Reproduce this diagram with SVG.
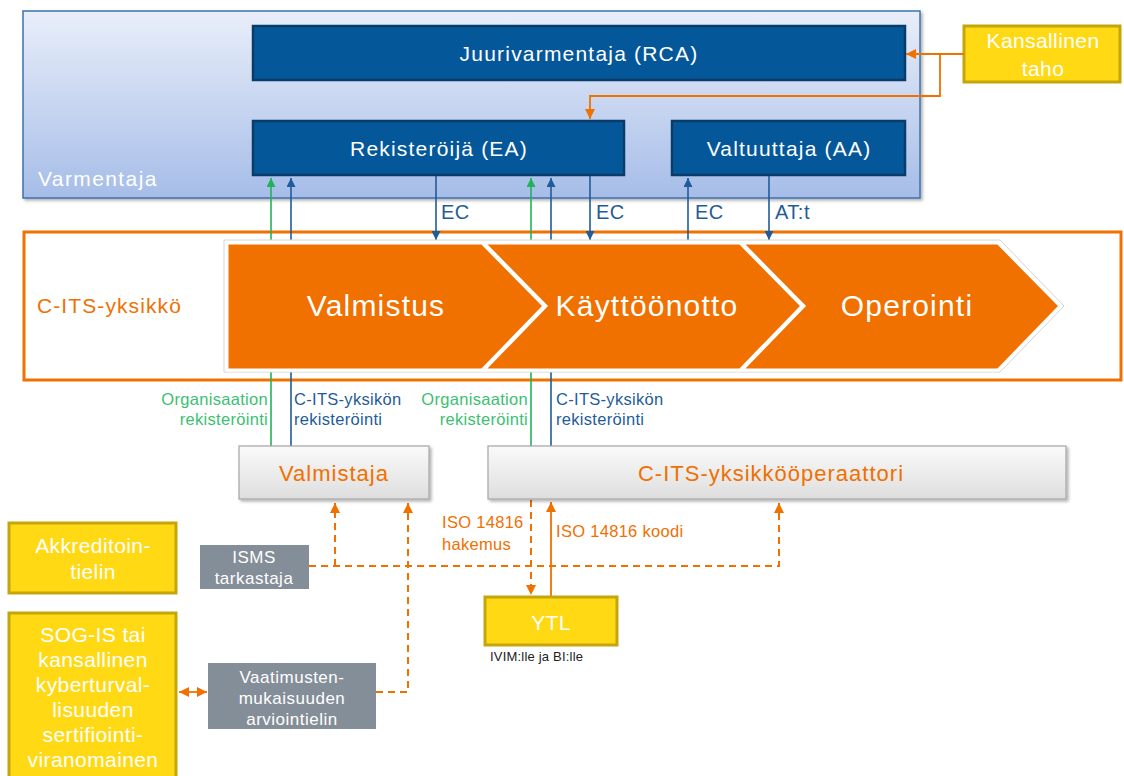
<svg xmlns="http://www.w3.org/2000/svg" width="1124" height="776" viewBox="0 0 1124 776">
  <style>
    text { font-family: "Liberation Sans", Arial, sans-serif; }
    .ca { fill: #04589a; stroke: #0a3c6a; stroke-width: 2.5; }
    .ca-t { fill: #ffffff; font-size: 21px; letter-spacing: 1.2px; text-anchor: middle; }
    .yel { fill: #ffd914; stroke: #c4a50b; stroke-width: 3; }
    .yel-t { fill: #ffffff; font-size: 21px; letter-spacing: 0.4px; text-anchor: middle; }
    .gbox { fill: url(#gGrey); stroke: #a6a6a6; stroke-width: 1.2; filter: url(#sh); }
    .gbox-t { fill: #f07000; font-size: 22px; letter-spacing: 1px; text-anchor: middle; }
    .slate { fill: #848e98; }
    .slate-t { fill: #ffffff; font-size: 17px; letter-spacing: 0.5px; text-anchor: middle; }
    .chev { fill: #f07000; stroke: #ffffff; stroke-width: 3; stroke-linejoin: miter; }
    .chev-t { fill: #ffffff; font-size: 30px; letter-spacing: 1.2px; text-anchor: middle; }
    .lb { stroke: #1f5c99; stroke-width: 1.6; fill: none; }
    .lg { stroke: #22b25a; stroke-width: 1.6; fill: none; }
    .lo { stroke: #f07000; stroke-width: 1.8; fill: none; }
    .ld { stroke: #f07000; stroke-width: 2; fill: none; stroke-dasharray: 7 5; }
    .tb { fill: #1f5c99; font-size: 20px; letter-spacing: 0.5px; }
    .tbs { fill: #1f5c99; font-size: 16.5px; letter-spacing: 0.3px; }
    .tgs { fill: #3cbf72; font-size: 16.5px; letter-spacing: 0.3px; text-anchor: end; }
    .tos { fill: #f07000; font-size: 16.5px; letter-spacing: 0.3px; }
  </style>
  <defs>
    <linearGradient id="gVar" x1="0" y1="0" x2="0" y2="1">
      <stop offset="0" stop-color="#e9eef9"/>
      <stop offset="1" stop-color="#a6bde8"/>
    </linearGradient>
    <linearGradient id="gGrey" x1="0" y1="0" x2="0" y2="1">
      <stop offset="0" stop-color="#fafafa"/>
      <stop offset="1" stop-color="#dedede"/>
    </linearGradient>
    <filter id="sh" x="-10%" y="-20%" width="130%" height="150%">
      <feDropShadow dx="2" dy="2" stdDeviation="1.5" flood-color="#000" flood-opacity="0.3"/>
    </filter>
    <marker id="mb" viewBox="0 0 10 10" refX="10" refY="5" markerWidth="9" markerHeight="9" markerUnits="userSpaceOnUse" orient="auto">
      <path d="M0,0 L10,5 L0,10 z" fill="#1f5c99"/>
    </marker>
    <marker id="mg" viewBox="0 0 10 10" refX="10" refY="5" markerWidth="9" markerHeight="9" markerUnits="userSpaceOnUse" orient="auto">
      <path d="M0,0 L10,5 L0,10 z" fill="#22b25a"/>
    </marker>
    <marker id="mo" viewBox="0 0 10 10" refX="10" refY="5" markerWidth="10" markerHeight="10" markerUnits="userSpaceOnUse" orient="auto-start-reverse">
      <path d="M0,0 L10,5 L0,10 z" fill="#f07000"/>
    </marker>
  </defs>

  <!-- Certificate authority domain -->
  <g id="varmentaja">
    <rect x="23" y="11" width="897" height="187" fill="url(#gVar)" stroke="#3e72ad" stroke-width="1.5" filter="url(#sh)"/>
    <text x="38" y="186" fill="#ffffff" font-size="21" letter-spacing="1.4">Varmentaja</text>
  </g>
  <g id="rca">
    <rect class="ca" x="253" y="26" width="652" height="54"/>
    <text class="ca-t" x="579" y="61">Juurivarmentaja (RCA)</text>
  </g>
  <g id="ea">
    <rect class="ca" x="253" y="121" width="371" height="54"/>
    <text class="ca-t" x="439" y="156">Rekisteröijä (EA)</text>
  </g>
  <g id="aa">
    <rect class="ca" x="672" y="121" width="233" height="54"/>
    <text class="ca-t" x="789" y="156">Valtuuttaja (AA)</text>
  </g>
  <g id="kansallinen">
    <rect class="yel" x="964" y="26" width="156" height="56"/>
    <text class="yel-t" x="1043" y="48">Kansallinen</text>
    <text class="yel-t" x="1043" y="76">taho</text>
  </g>

  <!-- C-ITS station lifecycle frame -->
  <g id="cits-frame">
    <rect x="24" y="232" width="1097" height="148" fill="#ffffff" stroke="#f07000" stroke-width="3"/>
    <text x="37" y="313" fill="#f07000" font-size="21" letter-spacing="1.1">C-ITS-yksikkö</text>
  </g>

  <!-- Connectors -->
  <g id="connectors">
    <!-- registration lines from manufacturer / operator up to EA -->
    <line class="lg" x1="271" y1="446" x2="271" y2="178" marker-end="url(#mg)"/>
    <line class="lb" x1="291" y1="446" x2="291" y2="178" marker-end="url(#mb)"/>
    <line class="lg" x1="531" y1="446" x2="531" y2="178" marker-end="url(#mg)"/>
    <line class="lb" x1="551" y1="446" x2="551" y2="178" marker-end="url(#mb)"/>
    <!-- certificates -->
    <line class="lb" x1="436" y1="176" x2="436" y2="240" marker-end="url(#mb)"/>
    <line class="lb" x1="590" y1="176" x2="590" y2="240" marker-end="url(#mb)"/>
    <line class="lb" x1="688" y1="240" x2="688" y2="178" marker-end="url(#mb)"/>
    <line class="lb" x1="769" y1="176" x2="769" y2="240" marker-end="url(#mb)"/>
    <text class="tb" x="441" y="219">EC</text>
    <text class="tb" x="596" y="219">EC</text>
    <text class="tb" x="695" y="219">EC</text>
    <text class="tb" x="775" y="219">AT:t</text>
    <!-- national body to RCA and EA -->
    <line class="lo" x1="964" y1="54" x2="906" y2="54" marker-end="url(#mo)"/>
    <polyline class="lo" points="940,54 940,96 590,96 590,119" marker-end="url(#mo)"/>
    <!-- registration labels -->
    <text class="tgs" x="268" y="405">Organisaation</text>
    <text class="tgs" x="268" y="425">rekisteröinti</text>
    <text class="tbs" x="294" y="405">C-ITS-yksikön</text>
    <text class="tbs" x="294" y="425">rekisteröinti</text>
    <text class="tgs" x="528" y="405">Organisaation</text>
    <text class="tgs" x="528" y="425">rekisteröinti</text>
    <text class="tbs" x="556" y="405">C-ITS-yksikön</text>
    <text class="tbs" x="556" y="425">rekisteröinti</text>
    <!-- audits -->
    <polyline class="ld" points="309,566 779,566 779,503" marker-end="url(#mo)"/>
    <polyline class="ld" points="335,566 335,503" marker-end="url(#mo)"/>
    <polyline class="ld" points="376,692 408,692 408,503" marker-end="url(#mo)"/>
    <!-- ISO 14816 -->
    <line class="ld" x1="531" y1="500" x2="531" y2="595" marker-end="url(#mo)"/>
    <line class="lo" x1="551" y1="596" x2="551" y2="502" marker-end="url(#mo)"/>
    <text class="tos" x="442" y="528">ISO 14816</text>
    <text class="tos" x="442" y="550">hakemus</text>
    <text class="tos" x="556" y="537">ISO 14816 koodi</text>
    <!-- certification authority link -->
    <line class="lo" x1="179" y1="692" x2="207" y2="692" marker-start="url(#mo)" marker-end="url(#mo)"/>
  </g>

  <!-- Lifecycle chevrons -->
  <g id="lifecycle">
    <polygon points="224,240 1000,240 1064,306 1000,372 224,372" fill="#ffffff" stroke="#d4d4d4" stroke-width="1"/>
    <polygon class="chev" points="742,243 998,243 1060,306 998,370 742,370 804,306"/>
    <polygon class="chev" points="484,243 740,243 802,306 740,370 484,370 546,306"/>
    <polygon class="chev" points="227,243 482,243 544,306 482,370 227,370"/>
    <text class="chev-t" x="376" y="316">Valmistus</text>
    <text class="chev-t" x="647" y="316">Käyttöönotto</text>
    <text class="chev-t" x="907" y="316">Operointi</text>
  </g>

  <g id="valmistaja">
    <rect class="gbox" x="239" y="446" width="190" height="53"/>
    <text class="gbox-t" x="334" y="481">Valmistaja</text>
  </g>
  <g id="operaattori">
    <rect class="gbox" x="488" y="446" width="578" height="53"/>
    <text class="gbox-t" x="771" y="481">C-ITS-yksikkööperaattori</text>
  </g>

  <g id="isms">
    <rect class="slate" x="200" y="545" width="109" height="44"/>
    <text class="slate-t" x="254" y="563">ISMS</text>
    <text class="slate-t" x="254" y="584">tarkastaja</text>
  </g>
  <g id="vaatimusten">
    <rect class="slate" x="208" y="663" width="168" height="66"/>
    <text class="slate-t" x="292" y="683">Vaatimusten-</text>
    <text class="slate-t" x="292" y="704">mukaisuuden</text>
    <text class="slate-t" x="292" y="725">arviointielin</text>
  </g>

  <g id="akkreditointi">
    <rect class="yel" x="9" y="523" width="167" height="70"/>
    <text class="yel-t" x="93" y="553">Akkreditoin-</text>
    <text class="yel-t" x="93" y="579">tielin</text>
  </g>
  <g id="sogis">
    <rect class="yel" x="9" y="613" width="167" height="170"/>
    <text class="yel-t" x="93" y="642">SOG-IS tai</text>
    <text class="yel-t" x="93" y="667">kansallinen</text>
    <text class="yel-t" x="93" y="692">kyberturval-</text>
    <text class="yel-t" x="93" y="717">lisuuden</text>
    <text class="yel-t" x="93" y="742">sertifiointi-</text>
    <text class="yel-t" x="93" y="767">viranomainen</text>
  </g>

  <g id="ytl">
    <rect class="yel" x="485" y="597" width="132" height="48"/>
    <text class="yel-t" x="551" y="630" font-size="24">YTL</text>
    <text x="490" y="661" fill="#222222" font-size="13" letter-spacing="0.2">IVIM:lle ja BI:lle</text>
  </g>
</svg>
